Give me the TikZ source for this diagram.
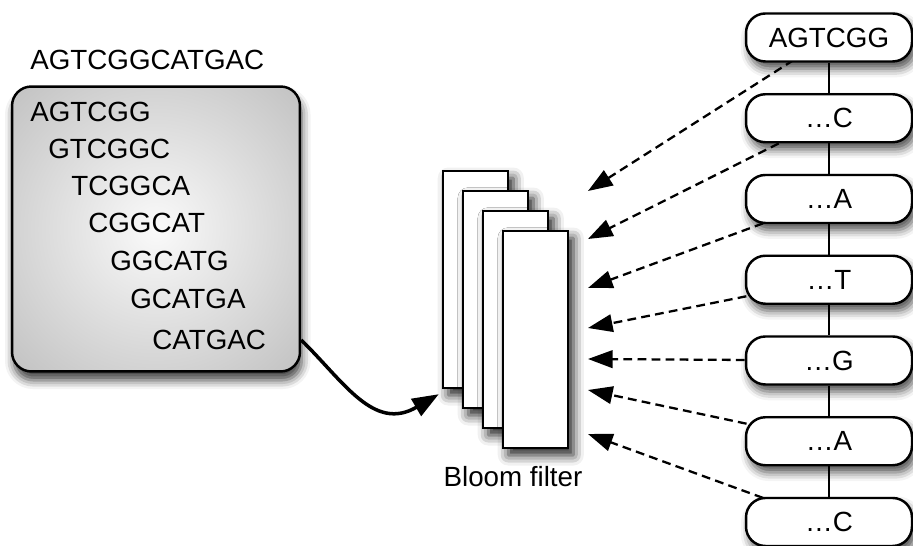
\documentclass[tikz,border=0pt]{standalone}
\usepackage{fontspec}
\setmainfont{Liberation Sans}
\usetikzlibrary{arrows.meta, shadows.blur, backgrounds}

\pgfdeclareradialshading{kmershade}{\pgfpoint{0bp}{0bp}}{color(0bp)=(black!2); color(50bp)=(black!33); color(72bp)=(black!50)}

\tikzset{
    kmer/.style={anchor=west, inner sep=0pt},
    kmerbox/.style={draw, line width=1.4pt, rounded corners=11pt, shade, shading=kmershade,
        minimum width=5.76cm, minimum height=5.7cm,
        blur shadow={shadow xshift=1pt, shadow yshift=-5pt, shadow blur radius=5pt, shadow opacity=75}},
    filter/.style={draw, fill=white, line width=1.4pt, minimum width=1.3cm, minimum height=4.34cm,
        blur shadow={shadow xshift=3pt, shadow yshift=-4pt, shadow blur radius=6pt, shadow opacity=90}},
    base/.style={draw, fill=white, line width=1.4pt, rounded corners=11pt,
        minimum width=3.32cm, minimum height=0.96cm,
        blur shadow={shadow xshift=2pt, shadow yshift=-4pt, shadow blur radius=5pt, shadow opacity=70}},
    link/.style={line width=0.9pt},
    query/.style={line width=1.3pt, dash pattern=on 5pt off 3pt, -{Triangle[length=14pt, width=10pt]}},
    feed/.style={line width=2pt, -{Triangle[length=15pt, width=11pt]}}
}

\begin{document}
\begin{tikzpicture}[x=0.02cm, y=-0.02cm, font=\fontsize{15.8}{18}\selectfont]
    \useasboundingbox (0,0) rectangle (913,546);

    % read and its k-mers
    \node[kmer] (read) at (30,60) {AGTCGGCATGAC};
    \node[kmerbox] (kmers) at (156,229) {};
    \node[kmer] (r1) at (30,112) {AGTCGG};
    \node[kmer] (r2) at (48,149) {GTCGGC};
    \node[kmer] (r3) at (71,186) {TCGGCA};
    \node[kmer] (r4) at (88,223) {CGGCAT};
    \node[kmer] (r5) at (110,261) {GGCATG};
    \node[kmer] (r6) at (130,299) {GCATGA};
    \node[kmer] (r7) at (152,340) {CATGAC};

    % Bloom filter
    \foreach \i in {1,...,4}
        \node[filter] (f\i) at (455.5+20*\i, 259.5+20*\i) {};
    \node (bloom) at (513,477) {Bloom filter};

    \draw[feed] (kmers.east |- r7) .. controls +(43,42) and +(-65,38) .. ([shift={(-3,5)}]f1.south west);

    % path of the read
    \foreach \lbl [count=\i] in {AGTCGG, …C, …A, …T, …G, …A, …C}
        \node[base] (n\i) at (829, 37.5+80.75*\i-80.75) {\lbl};
    \foreach \i [count=\j from 2] in {1,...,6}
        \draw[link] (n\i) -- (n\j);

    \foreach \y [count=\i] in {191,239,288,328,359,390,434}
        \coordinate (t\i) at (588,\y);
    \begin{scope}[on background layer]
        \foreach \i in {1,...,7}
            \draw[query] (n\i.center) -- (t\i);
    \end{scope}
\end{tikzpicture}
\end{document}
